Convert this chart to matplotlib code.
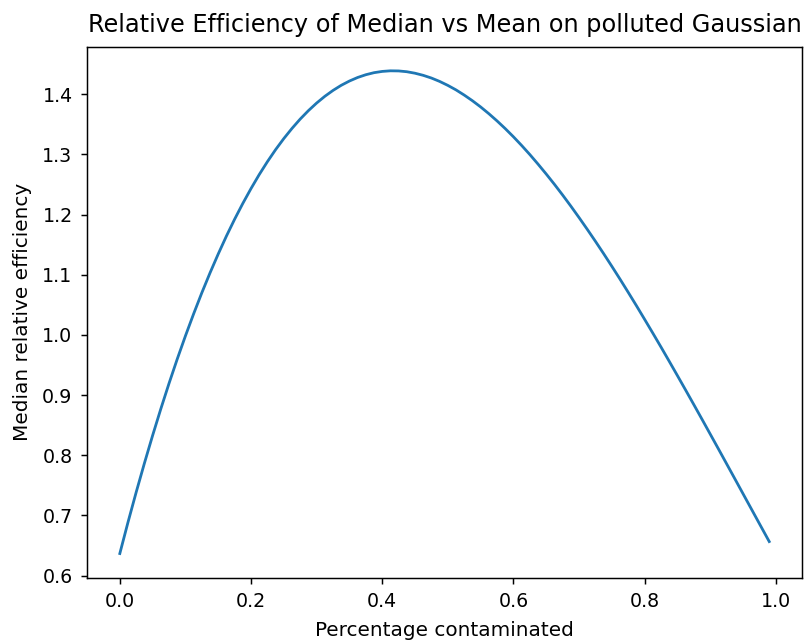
import matplotlib
matplotlib.use("Agg")
import matplotlib.pyplot as plt

# fraction of contaminated samples
pct_contaminated = [
    0.0, 0.0125, 0.025, 0.0375, 0.05, 0.0625, 0.075, 0.0875, 0.1, 0.1125,
    0.125, 0.1375, 0.15, 0.1625, 0.175, 0.1875, 0.2, 0.2125, 0.225, 0.2375,
    0.25, 0.2625, 0.275, 0.2875, 0.3, 0.3125, 0.325, 0.3375, 0.35, 0.3625,
    0.375, 0.3875, 0.4, 0.4125, 0.425, 0.4375, 0.45, 0.4625, 0.475, 0.4875,
    0.5, 0.5125, 0.525, 0.5375, 0.55, 0.5625, 0.575, 0.5875, 0.6, 0.6125,
    0.625, 0.6375, 0.65, 0.6625, 0.675, 0.6875, 0.7, 0.7125, 0.725, 0.7375,
    0.75, 0.7625, 0.775, 0.7875, 0.8, 0.8125, 0.825, 0.8375, 0.85, 0.8625,
    0.875, 0.8875, 0.9, 0.9125, 0.925, 0.9375, 0.95, 0.9625, 0.975, 0.99,
]

# relative efficiency of median vs mean
median_efficiency = [
    0.6366, 0.6887, 0.7387, 0.7867, 0.8328, 0.8770, 0.9193, 0.9597, 0.9982, 1.0349,
    1.0699, 1.1030, 1.1344, 1.1642, 1.1922, 1.2185, 1.2432, 1.2664, 1.2879, 1.3079,
    1.3263, 1.3432, 1.3587, 1.3727, 1.3853, 1.3965, 1.4063, 1.4148, 1.4219, 1.4278,
    1.4324, 1.4358, 1.4379, 1.4389, 1.4387, 1.4374, 1.4349, 1.4314, 1.4269, 1.4213,
    1.4147, 1.4072, 1.3986, 1.3892, 1.3789, 1.3677, 1.3557, 1.3429, 1.3293, 1.3149,
    1.2998, 1.2839, 1.2674, 1.2503, 1.2325, 1.2141, 1.1951, 1.1756, 1.1556, 1.1351,
    1.1141, 1.0927, 1.0708, 1.0486, 1.0259, 1.0030, 0.9798, 0.9562, 0.9324, 0.9084,
    0.8842, 0.8598, 0.8352, 0.8106, 0.7858, 0.7610, 0.7361, 0.7112, 0.6863, 0.6565,
]

dpi = 133
fig = plt.figure(figsize=(805 / dpi, 643 / dpi), dpi=dpi)
ax = fig.add_axes([0.1085, 0.1016, 0.8874, 0.8258])

ax.plot(pct_contaminated, median_efficiency)
ax.set_title("Relative Efficiency of Median vs Mean on polluted Gaussian",
             fontsize=13, pad=8)
ax.set_xlabel("Percentage contaminated", fontsize=10.8, labelpad=5)
ax.set_ylabel("Median relative efficiency", fontsize=10.8, labelpad=5.5)
ax.tick_params(labelsize=10.3, pad=4.5)

fig.savefig("out.png", dpi=dpi)
plt.close(fig)
